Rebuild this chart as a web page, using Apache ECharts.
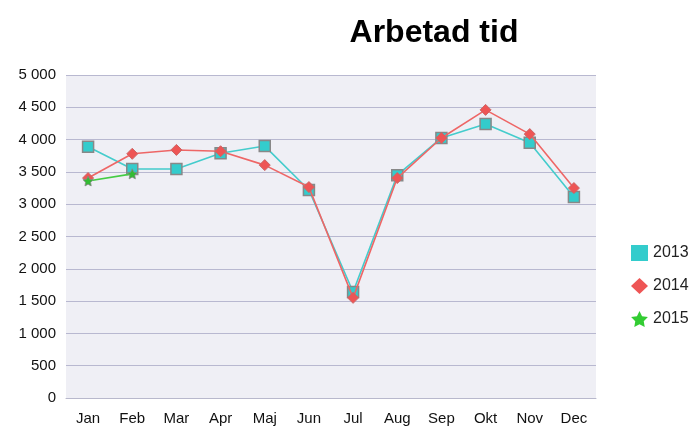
<!DOCTYPE html>
<html>
<head>
<meta charset="utf-8">
<script src="https://cdn.jsdelivr.net/npm/echarts@6/dist/echarts.min.js"></script>
<style>
  html, body { margin: 0; padding: 0; background: #fff; }
  #chart { width: 698px; height: 427px; }
</style>
</head>
<body>
<div id="chart"></div>
<script>
const months = ['Jan', 'Feb', 'Mar', 'Apr', 'Maj', 'Jun', 'Jul', 'Aug', 'Sep', 'Okt', 'Nov', 'Dec'];
const values2013 = [3890, 3545, 3545, 3790, 3900, 3220, 1640, 3450, 4025, 4240, 3950, 3110];
const values2014 = [3405, 3780, 3840, 3820, 3605, 3265, 1550, 3405, 4025, 4460, 4085, 3250];
const values2015 = [3360, 3470];
const yTicks = [0, 500, 1000, 1500, 2000, 2500, 3000, 3500, 4000, 4500, 5000];

const chart = echarts.init(document.getElementById('chart'));

// tusental med mellanslag
function fmt(v) {
  return String(v).replace(/\B(?=(\d{3})+(?!\d))/g, ' ');
}

const star = 'path://M0,-10 L2.9,-4 L9.5,-3.1 L4.8,1.5 L5.9,8.1 L0,5 L-5.9,8.1 L-4.8,1.5 L-9.5,-3.1 L-2.9,-4 Z';

const option = {
  animation: false,
  backgroundColor: '#fff',
  textStyle: { fontFamily: 'Liberation Sans' },
  title: {
    text: 'Arbetad tid',
    left: 429,
    top: 12,
    textAlign: 'center',
    textStyle: { fontSize: 32, fontWeight: 'bold', color: '#000', fontFamily: 'Liberation Sans' }
  },
  legend: {
    orient: 'vertical',
    left: 626,
    top: 240,
    itemGap: 17,
    itemWidth: 17,
    itemHeight: 16,
    textStyle: { fontSize: 16, color: '#222' },
    data: [
      { name: '2013', icon: 'rect', itemStyle: { color: '#33cccc', borderWidth: 0 } },
      { name: '2014', icon: 'diamond', itemStyle: { color: '#ee5555', borderWidth: 0 } },
      { name: '2015', icon: star, itemStyle: { color: '#33cc33', borderWidth: 0 } }
    ]
  },
  grid: {
    left: 66,
    right: 102,
    top: 75,
    bottom: 29,
    show: true,
    backgroundColor: '#efeff5',
    borderWidth: 0
  },
  xAxis: {
    type: 'category',
    data: months,
    boundaryGap: true,
    axisLine: { lineStyle: { color: '#b8b8cc', width: 1 } },
    axisTick: { show: false },
    axisLabel: { color: '#111', fontSize: 15, margin: 13 }
  },
  yAxis: {
    type: 'value',
    min: yTicks[0],
    max: yTicks[yTicks.length - 1],
    interval: 500,
    axisLine: { show: false },
    axisTick: { show: false },
    splitLine: { lineStyle: { color: '#b8b8d0', width: 1 } },
    axisLabel: { color: '#111', fontSize: 15, margin: 10, formatter: fmt }
  },
  series: [
    {
      name: '2013',
      type: 'line',
      data: values2013,
      symbol: 'rect',
      symbolSize: 11,
      lineStyle: { color: '#44cccc', width: 1.6 },
      itemStyle: { color: '#33cccc', borderColor: '#888', borderWidth: 1.5 },
      z: 2
    },
    {
      name: '2014',
      type: 'line',
      data: values2014,
      symbol: 'diamond',
      symbolSize: 11,
      lineStyle: { color: '#ee6666', width: 1.6 },
      itemStyle: { color: '#ee5555', borderColor: '#cc6666', borderWidth: 1 },
      z: 3
    },
    {
      name: '2015',
      type: 'line',
      data: values2015,
      symbol: star,
      symbolSize: 10,
      lineStyle: { color: '#44cc44', width: 1.6 },
      itemStyle: { color: '#33bb33', borderColor: '#888', borderWidth: 0.8 },
      z: 4
    }
  ]
};

chart.setOption(option);
</script>
</body>
</html>
